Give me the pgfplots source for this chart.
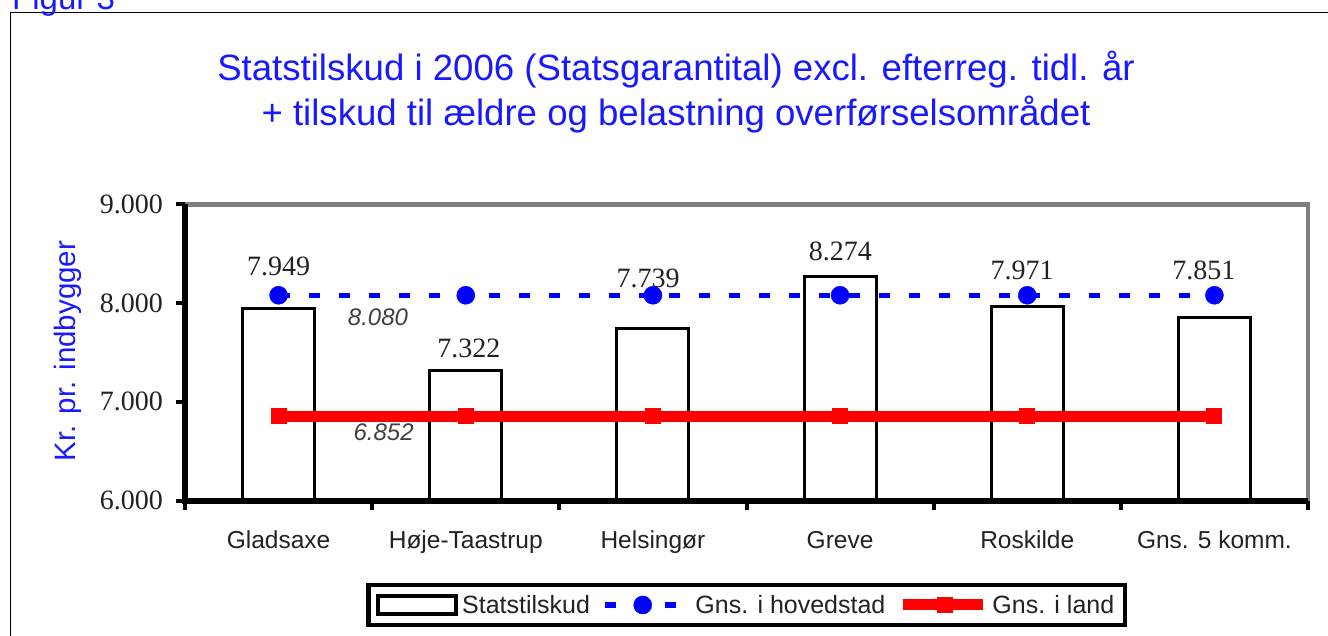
\documentclass[border=0pt]{standalone}
\usepackage{pgfplots}
\pgfplotsset{compat=1.18}
\usepackage{fontspec}
\setmainfont{Liberation Sans}
\newfontfamily\serifnum{Liberation Serif}
\definecolor{ttlblue}{RGB}{25,25,255}
\definecolor{gblue}{RGB}{0,0,255}
\definecolor{gred}{RGB}{255,0,0}
\definecolor{axgray}{RGB}{128,128,128}
\definecolor{txt}{RGB}{34,34,34}
\pgfplotsset{
  barlegend/.style={legend image code/.code={\draw[black, fill=white, line width=4.5pt] (2pt,-9pt) rectangle (80pt,9pt);}},
  bluelegend/.style={legend image code/.code={\draw[mark repeat=2, mark phase=2, ##1] plot coordinates {(0pt,0pt) (38pt,0pt) (84pt,0pt)};}},
  redlegend/.style={legend image code/.code={\draw[mark repeat=2, mark phase=2, ##1] plot coordinates {(0pt,0pt) (42pt,0pt) (80pt,0pt)};}},
}
\begin{document}
\begin{tikzpicture}[x=1pt,y=1pt]
\useasboundingbox (0,0) rectangle (1328,635);
\clip (0,0) rectangle (1328,635);
\draw[line width=1.3pt] (10.5,-10) -- (10.5,622.5) -- (1340,622.5);
\node[anchor=base west, text=ttlblue, font=\fontsize{33}{36}\selectfont, inner sep=0pt] at (12,625) {Figur 3};
\node[anchor=base, text=ttlblue, font=\fontsize{36.6}{40}\selectfont, inner sep=0pt] at (676,554.5) {Statstilskud i 2006 (Statsgarantital) excl. efterreg. tidl. år};
\node[anchor=base, text=ttlblue, font=\fontsize{36.6}{40}\selectfont, inner sep=0pt] at (676,509.5) {+ tilskud til ældre og belastning overførselsområdet};
\node[rotate=90, text=ttlblue, font=\fontsize{29.5}{31}\selectfont, inner sep=0pt] at (67.5,284) {Kr. pr. indbygger};
\begin{axis}[
  at={(185pt,134.5pt)}, anchor=south west,
  width=1123pt, height=296pt, scale only axis,
  xmin=-0.5, xmax=5.5, ymin=6000, ymax=9000,
  axis lines=left, axis line style={-, black},
  xtick={-0.5,0.5,...,5.5}, x tick label as interval,
  xticklabels={Gladsaxe,Høje-Taastrup,Helsingør,Greve,Roskilde,Gns. 5 komm.},
  ytick={6000,7000,8000,9000}, yticklabels={6.000,7.000,8.000,9.000},
  tick align=outside, major tick length=9pt,
  every tick/.style={line width=4pt, black},
  xticklabel style={font=\fontsize{24.5}{27}\selectfont, text=txt, anchor=north, inner sep=0pt, yshift=-21.5pt},
  yticklabel style={font=\serifnum\fontsize{28}{30}\selectfont, text=txt, anchor=east, inner sep=0pt, xshift=-13pt},
  legend style={at={(0.5004,-0.353)}, anchor=center, draw=black, line width=4.5pt, fill=white,
    font=\fontsize{25}{28}\selectfont, text=txt, inner xsep=7pt, inner ysep=8pt,
    /tikz/every even column/.append style={column sep=8pt}, nodes={inner ysep=2pt, inner xsep=4pt}},
  legend columns=3,
  after end axis/.code={
    \draw[axgray, line width=4.5pt] (rel axis cs:0,1) -- (rel axis cs:1,1) -- (rel axis cs:1,0);
    \draw[black, line width=6pt] (rel axis cs:0,1) -- (rel axis cs:0,0) -- (rel axis cs:1,0);
  },
]
\addplot[ybar, bar width=72pt, bar shift=0pt, draw=black, fill=white, line width=3pt, barlegend]
  coordinates {(0,7949) (1,7322) (2,7739) (3,8274) (4,7971) (5,7851)};
\addlegendentry{Statstilskud}
\addplot[gblue, line width=5.5pt, dash pattern=on 11pt off 19pt, mark=*, mark size=9pt, mark options={solid, line width=0.5pt}, bluelegend]
  coordinates {(0,8080) (1,8080) (2,8080) (3,8080) (4,8080) (5,8080)};
\addlegendentry{Gns. i hovedstad}
\addplot[gred, line width=11pt, mark=square*, mark size=7.5pt, mark options={solid, line width=1pt}, redlegend]
  coordinates {(0,6852) (1,6852) (2,6852) (3,6852) (4,6852) (5,6852)};
\addlegendentry{Gns. i land}
\begin{scope}[every node/.style={font=\serifnum\fontsize{28}{30}\selectfont, text=txt, inner sep=0pt}]
\node at (axis cs:0,8377) {7.949};
\node at (axis cs:1.017,7546) {7.322};
\node at (axis cs:1.974,8255) {7.739};
\node at (axis cs:3.002,8529) {8.274};
\node at (axis cs:3.972,8336) {7.971};
\node at (axis cs:4.944,8336) {7.851};
\end{scope}
\node[font=\itshape\fontsize{24}{26}\selectfont, text=black!75, inner sep=0pt] at (axis cs:0.531,7860) {8.080};
\node[font=\itshape\fontsize{24}{26}\selectfont, text=black!75, inner sep=0pt] at (axis cs:0.561,6689) {6.852};
\end{axis}
\end{tikzpicture}
\end{document}
